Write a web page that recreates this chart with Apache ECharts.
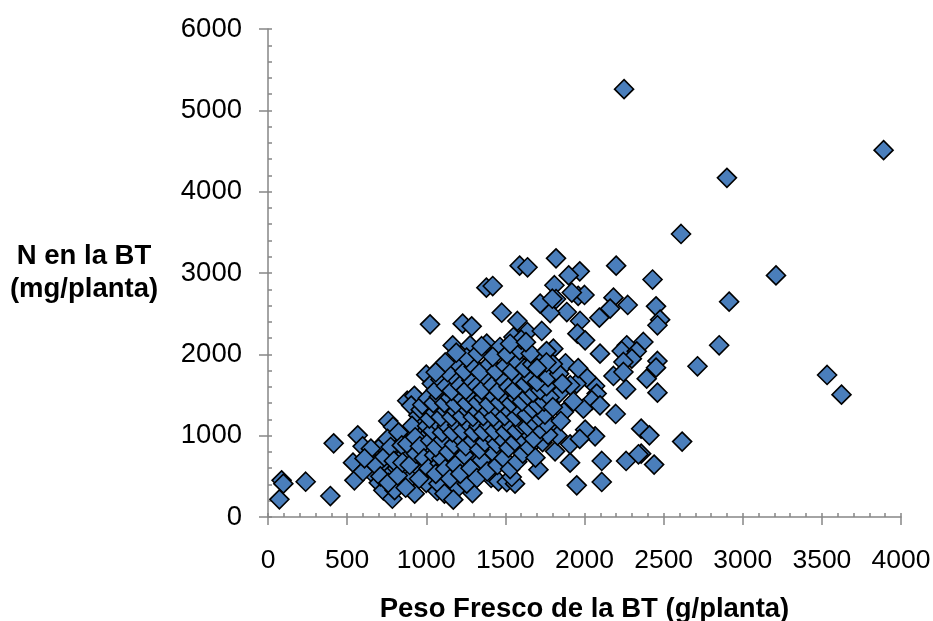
<!DOCTYPE html>
<html><head><meta charset="utf-8">
<script src="https://cdn.jsdelivr.net/npm/echarts@6/dist/echarts.min.js"></script>
<style>html,body{margin:0;background:#fff}#c{width:933px;height:621px}</style></head>
<body><div id="c"></div>
<script>
const xTitle = 'Peso Fresco de la BT (g/planta)';
const yTitle = 'N en la BT\n(mg/planta)';
const outliers = [[2250,5260],[2900,4170],[3890,4510],[2610,3480],[3210,2970],[2914,2648],[2851,2111],[2714,1853],[3533,1746],[3624,1504],[2617,927]];
const upper = [[1820,3180],[1590,3090],[1640,3070],[2200,3090],[1970,3020],[1900,2970],[2430,2920],[1380,2820],[1420,2840],[1810,2850],[1960,2720],[2000,2730],[1920,2760],[1820,2680],[1720,2623],[1477,2512],[1576,2410],[1024,2369],[1230,2377],[1287,2344],[1888,2520],[1783,2508],[1797,2684],[2183,2697],[2162,2562],[2094,2451],[2273,2607],[2452,2590],[2478,2426],[2461,2357],[1972,2410],[1955,2254],[1639,2274],[1730,2287],[1551,2213],[1167,2110],[1277,2110],[1382,2131],[1466,2090],[2372,2152],[2267,2111],[2235,2041],[2330,2037],[2004,2172],[2098,2008],[2299,1947],[2246,1906],[2461,1918],[2452,1836],[1803,2070]];
const right = [[2183,1734],[2246,1783],[2393,1701],[2263,1570],[2461,1529],[2067,1611],[2014,1713],[2077,1517],[2046,1435],[2098,1373],[1993,1332],[2197,1267],[2358,1086],[2410,1004],[2067,992],[2004,1074],[2109,689],[2263,689],[2358,779],[2341,771],[2440,644],[2109,431],[1951,389],[1909,668],[1909,893],[1814,807],[1950,1640],[1880,1890],[1960,1830],[1910,1620],[1840,1520],[1930,1420],[1970,960],[1870,1290],[1790,1130],[1830,1000]];
const left = [[86,451],[97,410],[72,217],[238,434],[394,258],[415,906],[567,1004],[537,668],[546,451],[598,869],[640,760],[625,600],[670,520],[690,830],[655,690],[720,880],[700,420],[729,328],[745,640],[770,520],[786,225],[760,1180],[790,1110],[805,950],[780,780],[815,600],[840,420],[800,330],[870,1010],[860,760],[885,570],[927,287],[900,480],[915,880],[945,680],[880,1430],[925,1490],[905,1370],[950,1250],[970,1110],[990,970],[1010,820],[975,560],[1000,420],[1030,660]];
const lowerCloud = [[1077,410],[1115,287],[1171,213],[1292,295],[1256,410],[1456,438],[1509,430],[1561,410],[1709,582],[1540,492],[1060,530],[1095,720],[1120,590],[1150,470],[1185,640],[1215,530],[1240,760],[1280,600],[1320,480],[1350,700],[1385,560],[1420,800],[1450,640],[1490,720],[1530,590],[1575,680],[1610,780],[1650,860],[1690,730],[1735,920],[1770,1010],[1060,860],[1105,950],[1140,800],[1175,890],[1210,980],[1250,870],[1295,940],[1335,830],[1370,920],[1405,1000],[1445,900],[1480,960],[1520,850],[1560,930],[1600,990],[1640,1040],[1680,960],[1720,1080],[1760,1150]];
const midCloud = [[1040,1060],[1075,1150],[1100,1040],[1130,1120],[1165,1040],[1195,1130],[1230,1060],[1265,1150],[1300,1040],[1330,1120],[1360,1050],[1395,1130],[1430,1060],[1465,1140],[1500,1050],[1535,1120],[1570,1060],[1605,1130],[1640,1110],[1675,1180],[1710,1230],[1750,1260],[1020,1210],[1055,1290],[1090,1230],[1125,1310],[1160,1230],[1190,1300],[1225,1240],[1260,1320],[1295,1230],[1325,1300],[1360,1240],[1390,1310],[1425,1230],[1460,1310],[1495,1240],[1530,1300],[1565,1230],[1600,1300],[1635,1260],[1670,1330],[1705,1380],[1745,1420],[1780,1470],[975,1380],[1010,1460],[1045,1400],[1080,1480],[1115,1400],[1150,1470],[1185,1390],[1220,1470],[1255,1400],[1290,1480],[1325,1410],[1360,1470],[1395,1390],[1430,1480],[1465,1410],[1500,1470],[1535,1400],[1570,1470],[1605,1420],[1640,1490],[1675,1530],[1720,1560],[1760,1610]];
const highCloud = [[1000,1750],[1035,1640],[1060,1560],[1090,1690],[1125,1610],[1160,1550],[1185,1700],[1215,1620],[1250,1560],[1285,1680],[1320,1610],[1350,1560],[1385,1700],[1420,1620],[1455,1550],[1490,1680],[1520,1600],[1555,1560],[1590,1690],[1625,1640],[1660,1710],[1700,1660],[1730,1780],[1770,1720],[1090,1840],[1135,1780],[1205,1870],[1240,1790],[1300,1850],[1340,1780],[1400,1880],[1440,1790],[1500,1860],[1540,1790],[1580,1900],[1620,1830],[1670,1880],[1720,1950],[1255,1960],[1325,2010],[1420,1970],[1510,2000],[1590,2050],[1660,2010],[1760,2040],[1600,2180],[1840,1760],[1860,1640],[1800,1350],[1850,1180]];
const denseLeft = [[600,560],[650,840],[680,640],[610,720],[710,500],[735,740],[760,420],[755,960],[775,860],[795,690],[820,510],[825,1040],[845,880],[850,670],[870,360],[880,900],[895,640],[910,1120],[930,980],[935,780],[955,470],[960,870],[965,1320],[985,720],[1005,1120],[1015,600],[1025,940],[1040,1290],[1050,760],[1070,320],[1075,1000],[1085,660],[1110,870],[1130,400],[1135,1000],[1150,700],[1160,580],[1195,780],[1200,360],[1225,680],[1235,960],[1270,500],[1275,800],[1305,700],[1340,590],[1365,800],[1400,660],[1410,480]];
const topEdge = [[1190,2020],[1060,1780],[1120,1900],[1350,2100],[1530,2130],[1630,2150],[1800,1880],[1760,1900],[1700,1830]];

const points = [...outliers, ...upper, ...right, ...left, ...denseLeft, ...lowerCloud, ...midCloud, ...highCloud, ...topEdge];
const axisColor = '#868686';
const textStyle = {color:'#000',fontFamily:'"Liberation Sans",Arial,sans-serif'};
const plain = v => String(v);
const chart = echarts.init(document.getElementById('c'));
chart.setOption({
  animation:false,
  backgroundColor:'#fff',
  grid:{left:268,top:29,width:633,height:488,containLabel:false,outerBoundsMode:'none'},
  xAxis:[{
    type:'value',min:0,max:4000,interval:500,
    name:xTitle,nameLocation:'middle',nameGap:78,
    nameTextStyle:{...textStyle,fontSize:27.5,fontWeight:'bold'},
    axisLine:{show:true,onZero:false,lineStyle:{color:axisColor,width:1.5}},
    axisTick:{show:true,length:8,lineStyle:{color:axisColor,width:1.5}},
    axisLabel:{...textStyle,fontSize:26.5,margin:30,formatter:plain},
    splitLine:{show:false}
  },{
    type:'value',min:0,max:4000,interval:100,position:'bottom',
    axisLine:{show:false},
    axisTick:{show:true,inside:true,length:4,lineStyle:{color:axisColor,width:1.5}},
    axisLabel:{show:false},splitLine:{show:false}
  }],
  yAxis:[{
    type:'value',min:0,max:6000,interval:1000,
    name:yTitle,nameLocation:'middle',nameRotate:0,nameGap:184,
    nameTextStyle:{...textStyle,fontSize:27.5,fontWeight:'bold',lineHeight:33,align:'center',padding:[6,0,0,0]},
    axisLine:{show:true,onZero:false,lineStyle:{color:axisColor,width:1.5}},
    axisTick:{show:true,length:9,lineStyle:{color:axisColor,width:1.5}},
    axisLabel:{...textStyle,fontSize:27.5,margin:26,formatter:plain},
    splitLine:{show:false}
  },{
    type:'value',min:0,max:6000,interval:200,position:'left',
    axisLine:{show:false},
    axisTick:{show:true,inside:true,length:4,lineStyle:{color:axisColor,width:1.5}},
    axisLabel:{show:false},splitLine:{show:false}
  }],
  series:[{
    type:'scatter',xAxisIndex:0,yAxisIndex:0,
    symbol:'diamond',symbolSize:[19,19],
    data:points,
    itemStyle:{color:'#4a7ebb',borderColor:'#000',borderWidth:1.6,opacity:1}
  }]
});
</script></body></html>
